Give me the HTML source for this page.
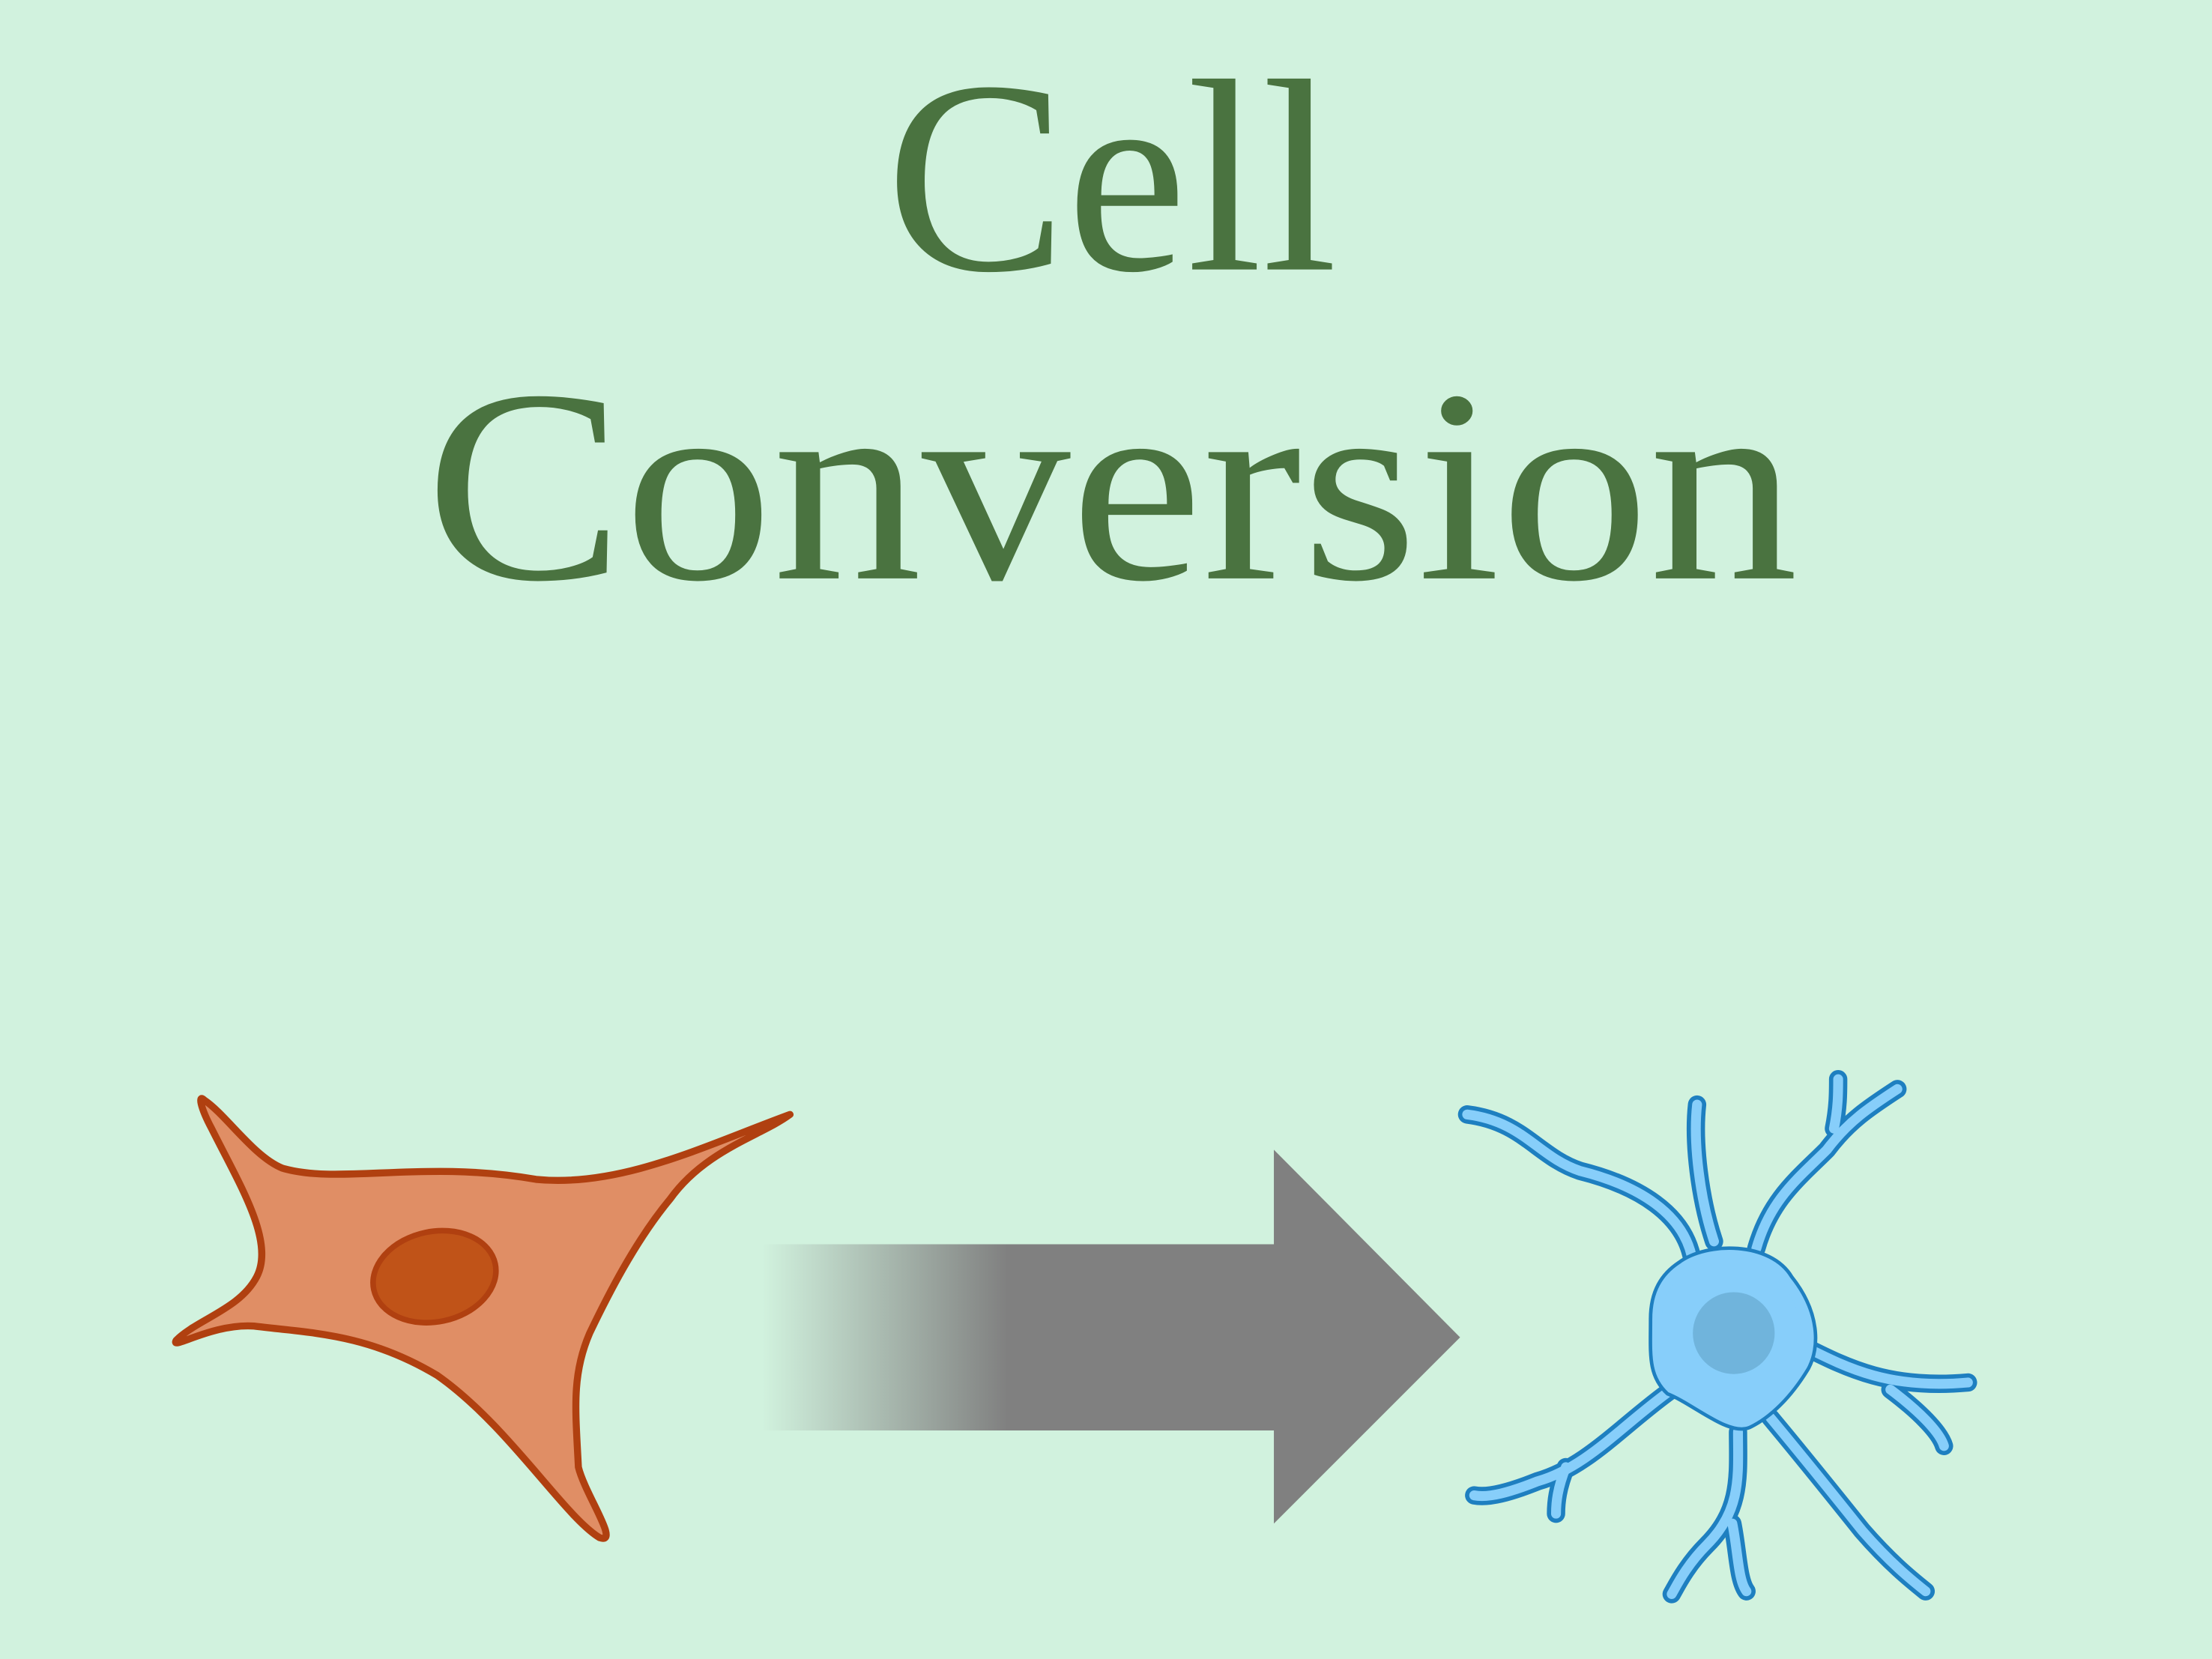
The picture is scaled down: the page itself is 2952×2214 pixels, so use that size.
<!DOCTYPE html>
<html><head><meta charset="utf-8"><style>
html,body{margin:0;padding:0;background:#d1f2de;}
svg{display:block}
</style></head><body>
<svg width="2952" height="2214" viewBox="0 0 1568 1176" xmlns="http://www.w3.org/2000/svg">
<defs>
<linearGradient id="g" x1="540" y1="0" x2="903" y2="0" gradientUnits="userSpaceOnUse">
<stop offset="0" stop-color="#d1f2de"/>
<stop offset="0.48" stop-color="#808080"/>
<stop offset="1" stop-color="#808080"/>
</linearGradient>
</defs>
<rect width="1568" height="1176" fill="#d1f2de"/>
<text x="788" y="191" text-anchor="middle" font-family="Liberation Serif, serif" font-size="195" fill="#4a7340" textLength="320" lengthAdjust="spacingAndGlyphs">Cell</text>
<text x="788" y="410" text-anchor="middle" font-family="Liberation Serif, serif" font-size="195" fill="#4a7340" textLength="973" lengthAdjust="spacingAndGlyphs">Conversion</text>

<rect x="540" y="882" width="364" height="132" fill="url(#g)"/>
<polygon points="903,815 1035,948 903,1080" fill="#808080"/>

<path d="M145,780 C160,790 180,820 200,828 C240,840 300,822 380,836 C440,842 500,812 560,790 C540,805 500,815 475,850 C450,880 430,920 418,945 C405,975 408,1000 410,1040 C415,1060 440,1095 425,1090 C400,1075 360,1010 310,975 C260,945 220,945 180,940 C150,938 120,958 125,950 C140,935 170,928 182,905 C195,880 170,840 150,800 C142,785 140,775 145,780 Z" fill="#e08e65" stroke="#b04010" stroke-width="5" stroke-linejoin="round"/>
<ellipse cx="308" cy="905" rx="44" ry="32" transform="rotate(-12 308 905)" fill="#c05318" stroke="#b04010" stroke-width="4"/>

<g fill="none" stroke-linecap="round" stroke-linejoin="round">
<g stroke="#1e7fc0" stroke-width="13">
<path d="M1200,895 C1195,860 1160,840 1120,830 C1090,820 1080,795 1040,790"/>
<path d="M1215,880 C1205,850 1200,810 1203,783"/>
<path d="M1245,885 C1255,850 1275,835 1295,815 C1310,795 1325,785 1345,772"/>
<path d="M1300,800 C1303,785 1303,775 1303,765"/>
<path d="M1280,955 C1310,970 1340,985 1395,980"/>
<path d="M1340,985 C1360,1000 1375,1015 1378,1025"/>
<path d="M1255,1005 C1280,1035 1300,1060 1320,1085 C1340,1108 1355,1120 1365,1128"/>
<path d="M1232,1015 C1232,1045 1235,1070 1210,1095 C1195,1110 1188,1125 1185,1130"/>
<path d="M1228,1080 C1232,1100 1232,1120 1238,1128"/>
<path d="M1185,985 C1150,1010 1125,1040 1090,1050 C1070,1058 1055,1062 1045,1060"/>
<path d="M1110,1040 C1104,1055 1103,1065 1103,1073"/>
</g>
<g stroke="#87cefa" stroke-width="7">
<path d="M1200,895 C1195,860 1160,840 1120,830 C1090,820 1080,795 1040,790"/>
<path d="M1215,880 C1205,850 1200,810 1203,783"/>
<path d="M1245,885 C1255,850 1275,835 1295,815 C1310,795 1325,785 1345,772"/>
<path d="M1300,800 C1303,785 1303,775 1303,765"/>
<path d="M1280,955 C1310,970 1340,985 1395,980"/>
<path d="M1340,985 C1360,1000 1375,1015 1378,1025"/>
<path d="M1255,1005 C1280,1035 1300,1060 1320,1085 C1340,1108 1355,1120 1365,1128"/>
<path d="M1232,1015 C1232,1045 1235,1070 1210,1095 C1195,1110 1188,1125 1185,1130"/>
<path d="M1228,1080 C1232,1100 1232,1120 1238,1128"/>
<path d="M1185,985 C1150,1010 1125,1040 1090,1050 C1070,1058 1055,1062 1045,1060"/>
<path d="M1110,1040 C1104,1055 1103,1065 1103,1073"/>
</g>
</g>
<path d="M1190,895 C1210,880 1255,880 1270,905 C1290,930 1290,955 1282,970 C1270,990 1255,1005 1240,1012 C1225,1018 1200,995 1182,988 C1168,975 1170,960 1170,935 C1170,915 1178,903 1190,895 Z" fill="#87cefa" stroke="#1e7fc0" stroke-width="2.5"/>
<path d="M1198,900 C1215,888 1250,888 1262,908 C1280,930 1280,955 1272,968 C1262,985 1250,998 1238,1004 C1225,1008 1205,992 1190,982 C1178,970 1178,955 1178,935 C1178,918 1186,908 1198,900 Z" fill="#87cefa"/>
<circle cx="1229" cy="945" r="29" fill="#70b4dc"/>
</svg>
</body></html>
